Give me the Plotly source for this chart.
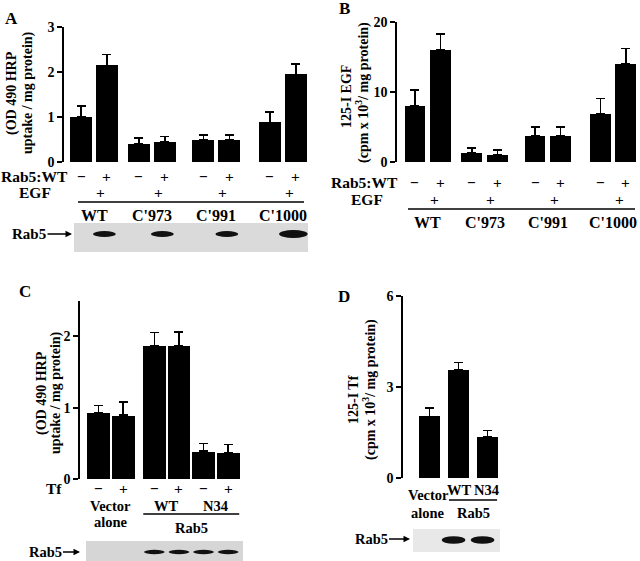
import plotly.graph_objects as go

W, H = 640, 561
def PX(p): return p / W
def PY(p): return 1 - p / H

# ---------------- data ----------------
groups_AB = ["WT", "C'973", "C'991", "C'1000"]
rab5_wt_row = ["−", "+", "−", "+", "−", "+", "−", "+"]
egf_row = ["", "+", "", "+", "", "+", "", "+"]

A_values = [1.00, 2.15, 0.40, 0.44, 0.49, 0.49, 0.88, 1.95]
A_errors = [0.24, 0.24, 0.13, 0.13, 0.11, 0.11, 0.23, 0.23]

B_values = [8.05, 16.0, 1.30, 1.05, 3.76, 3.76, 6.86, 14.0]
B_errors = [2.25, 2.30, 0.70, 0.65, 1.24, 1.24, 2.20, 2.20]

tf_row = ["−", "+", "−", "+", "−", "+"]
C_values = [0.93, 0.895, 1.87, 1.87, 0.39, 0.37]
C_errors = [0.10, 0.185, 0.18, 0.19, 0.11, 0.11]

D_labels = ["Vector", "WT", "N34"]
D_values = [2.03, 3.56, 1.35]
D_errors = [0.27, 0.24, 0.22]

# ---------------- layout positions ----------------
pos_AB = [0, 1, 2.23, 3.23, 4.71, 5.71, 7.27, 8.27]
pos_C = [0, 1, 2.27, 3.27, 4.27, 5.27]
pos_D = [0, 1, 2]

FONT = "Liberation Serif"
BOLD = dict(family=FONT, color="black", weight="bold")

fig = go.Figure()

def add_bars(vals, errs, pos, xa, ya, width):
    fig.add_trace(go.Bar(
        x=pos, y=vals, width=width, xaxis=xa, yaxis=ya,
        marker=dict(color="black", line=dict(width=0)),
        error_y=dict(type="data", array=errs, arrayminus=[0] * len(errs),
                     symmetric=False, color="black", thickness=1.5, width=4.5),
        showlegend=False, hoverinfo="skip"))

add_bars(A_values, A_errors, pos_AB, "x", "y", 0.85)
add_bars(B_values, B_errors, pos_AB, "x2", "y2", 0.82)
add_bars(C_values, C_errors, pos_C, "x3", "y3", 0.93)
add_bars(D_values, D_errors, pos_D, "x4", "y4", 0.72)

def yax(dom_px, rng, ticks):
    return dict(domain=[PY(dom_px[0]), PY(dom_px[1])], range=rng,
                tickvals=ticks, showline=True, linecolor="black", linewidth=1.5,
                ticks="outside", ticklen=5, tickwidth=1.5, tickcolor="black",
                showgrid=False, zeroline=False, automargin=False,
                tickfont=dict(size=14, **BOLD), fixedrange=True)

def xax(dom_px, rng, anchor):
    return dict(domain=[PX(dom_px[0]), PX(dom_px[1])], range=rng, visible=False,
                anchor=anchor, fixedrange=True, automargin=False)

fig.update_layout(
    width=W, height=H, margin=dict(l=0, r=0, t=0, b=0, pad=0), autosize=False,
    paper_bgcolor="white", plot_bgcolor="white",
    xaxis=xax([64, 310], [-0.654, 8.81], "y"),
    yaxis=yax([162, 27], [0, 3], [0, 1, 2, 3]) | dict(anchor="x"),
    xaxis2=xax([397, 638], [-0.706, 8.75], "y2"),
    yaxis2=yax([162, 22], [0, 20], [0, 10, 20]) | dict(anchor="x2"),
    xaxis3=xax([80, 245], [-0.752, 5.955], "y3"),
    yaxis3=yax([479, 300.5], [0, 2.5], [0, 1, 2]) | dict(anchor="x3"),
    xaxis4=xax([403, 505], [-0.914, 2.603], "y4"),
    yaxis4=yax([478, 296], [0, 6], [0, 3, 6]) | dict(anchor="x4"),
    bargap=0,
)

ann = []
shapes = []

def txt(text, x, y, xref="paper", size=14, xanchor="center", angle=0):
    ann.append(dict(text=text, x=x if xref != "paper" else PX(x), y=PY(y),
                    xref=xref, yref="paper", showarrow=False, xanchor=xanchor,
                    yanchor="middle", textangle=angle, borderpad=0,
                    font=dict(size=size, **BOLD)))

def hline(x0, x1, y, xref="paper"):
    shapes.append(dict(type="line", xref=xref, yref="paper",
                       x0=x0 if xref != "paper" else PX(x0),
                       x1=x1 if xref != "paper" else PX(x1),
                       y0=PY(y), y1=PY(y), line=dict(color="black", width=1.5)))

def rect(x0, x1, y0, y1, color):
    shapes.append(dict(type="rect", xref="paper", yref="paper", x0=PX(x0), x1=PX(x1),
                       y0=PY(y0), y1=PY(y1), fillcolor=color, line=dict(width=0),
                       layer="below"))

def band(xc, half_w, yc, h, xref):
    shapes.append(dict(type="circle", xref=xref, yref="paper",
                       x0=xc - half_w, x1=xc + half_w,
                       y0=PY(yc + h / 2), y1=PY(yc - h / 2),
                       fillcolor="#111111", line=dict(width=0)))

def rab5_arrow(tip_x, y, text_cx, size):
    ann.append(dict(text="Rab5", x=PX(tip_x), y=PY(y), xref="paper", yref="paper",
                    ax=text_cx - tip_x, ay=0, showarrow=True, arrowhead=2,
                    arrowsize=1, arrowwidth=1.3, arrowcolor="black",
                    font=dict(size=size, **BOLD)))

# panel letters
txt("A", 11.5, 18, size=17)
txt("B", 344, 9, size=17)
txt("C", 25, 291, size=17)
txt("D", 344, 296, size=17)

# y-axis titles
TS = 14
txt("(OD 490 HRP", 12, 93, size=TS, angle=-90)
txt("uptake / mg protein)", 28, 93, size=TS, angle=-90)
txt("125-I EGF", 347, 97, size=TS, angle=-90)
txt("(cpm x 10<sup>3</sup>/ mg protein)", 362, 93, size=TS, angle=-90)
txt("(OD 490 HRP", 42, 393, size=TS, angle=-90)
txt("uptake / mg protein)", 56, 393, size=TS, angle=-90)
txt("125-I Tf", 353, 400, size=TS, angle=-90)
txt("(cpm x 10<sup>3</sup>/ mg protein)", 369, 390, size=TS, angle=-90)

LS = 15.5   # row labels A/B
GS = 16     # group labels A/B
CS = 14.5   # labels C/D

# Panel A rows
txt("Rab5:WT", 69, 176, size=LS, xanchor="right")
txt("EGF", 35, 193, size=LS)
for p, r, e in zip(pos_AB, rab5_wt_row, egf_row):
    txt(r, p, 176, xref="x", size=LS)
    if e:
        txt(e, p - 0.25, 193, xref="x", size=LS)
hline(78, 304, 202)
for g, name in enumerate(groups_AB):
    txt(name, (pos_AB[2 * g] + pos_AB[2 * g + 1]) / 2, 215, xref="x", size=GS)
rect(74, 308, 223, 252, "#dadada")
for k, i in enumerate([1, 3, 5, 7]):
    hw = 0.55 if k == 3 else 0.44
    hh = 8 if k == 3 else 6
    band(pos_AB[i] - 0.1, hw, 234, hh, "x")
rab5_arrow(72, 234, 29, 15)

# Panel B rows
txt("Rab5:WT", 399, 182, size=LS, xanchor="right")
txt("EGF", 367, 200, size=LS)
for p, r, e in zip(pos_AB, rab5_wt_row, egf_row):
    txt(r, p, 182, xref="x2", size=LS)
    if e:
        txt(e, p - 0.25, 200, xref="x2", size=LS)
hline(408, 635, 209)
for g, name in enumerate(groups_AB):
    txt(name, (pos_AB[2 * g] + pos_AB[2 * g + 1]) / 2, 222, xref="x2", size=GS)

# Panel C rows
txt("Tf", 63, 488, size=CS + 1, xanchor="right")
for p, r in zip(pos_C, tf_row):
    txt(r, p, 488, xref="x3", size=CS + 1)
txt("Vector", (pos_C[0] + pos_C[1]) / 2, 506, xref="x3", size=CS)
txt("alone", (pos_C[0] + pos_C[1]) / 2, 522, xref="x3", size=CS)
txt("WT", (pos_C[2] + pos_C[3]) / 2, 506, xref="x3", size=CS)
txt("N34", (pos_C[4] + pos_C[5]) / 2, 506, xref="x3", size=CS)
hline(pos_C[2] - 0.45, pos_C[5] + 0.45, 514, xref="x3")
txt("Rab5", (pos_C[2] + pos_C[5]) / 2, 528, xref="x3", size=CS)
rect(86, 243, 541, 562, "#d6d6d6")
for i in [2, 3, 4, 5]:
    band(pos_C[i], 0.42, 552, 4.5, "x3")
rab5_arrow(80, 552, 45, 14.5)

# Panel D rows
txt(D_labels[0], pos_D[0] - 0.05, 495, xref="x4", size=CS)
txt("alone", pos_D[0] - 0.05, 513, xref="x4", size=CS)
txt(D_labels[1], pos_D[1] + 0.05, 490, xref="x4", size=CS)
txt(D_labels[2], pos_D[2] - 0.05, 490, xref="x4", size=CS)
hline(pos_D[1] - 0.33, pos_D[2] + 0.33, 500, xref="x4")
txt("Rab5", (pos_D[1] + pos_D[2]) / 2, 513, xref="x4", size=CS)
rect(413, 500, 529, 552, "#e8e8e8")
for i in [1, 2]:
    band(pos_D[i] - 0.17, 0.41, 540, 7.5, "x4")
rab5_arrow(410, 539, 371, 14.5)

fig.update_layout(annotations=ann, shapes=shapes)
fig.write_html("out.html", config={"responsive": False, "displayModeBar": False},
               post_script="document.body.style.margin='0px';"
                           "document.body.style.overflow='hidden';")
